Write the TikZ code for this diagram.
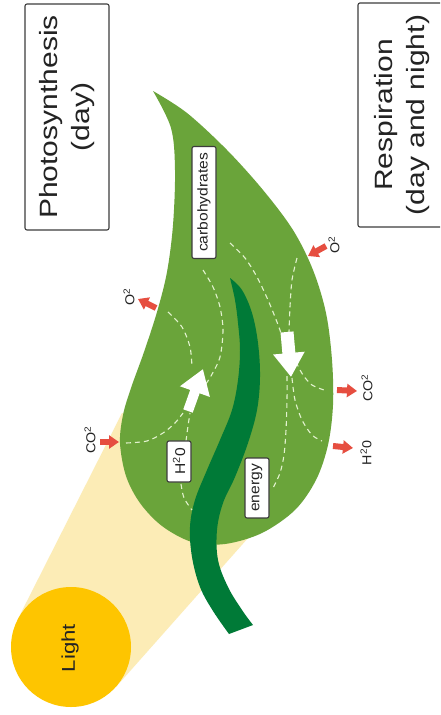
\documentclass[tikz,border=0pt]{standalone}
\usepackage{fontspec}
\setmainfont{Liberation Sans}
\usetikzlibrary{arrows.meta}

\definecolor{leafgreen}{RGB}{106,164,58}
\definecolor{stemgreen}{RGB}{0,122,55}
\definecolor{sun}{RGB}{254,197,0}
\definecolor{beam}{RGB}{252,236,182}
\definecolor{gasred}{RGB}{230,78,64}
\definecolor{flow}{RGB}{226,242,206}
\definecolor{ink}{RGB}{35,35,35}
\definecolor{frame}{RGB}{60,60,60}

\begin{document}
\begin{tikzpicture}[x=1pt,y=-1pt,
  title/.style={draw=frame, line width=1.1pt, rounded corners=2pt, fill=white,
    rotate=90, xscale=1.2, inner sep=0pt, align=center, text=ink,
    font=\fontsize{25}{32.5}\selectfont},
  tag/.style={draw=frame, line width=1.1pt, rounded corners=2pt, fill=white,
    rotate=90, xscale=1.1, inner sep=0pt, minimum height=24pt, text=ink,
    font=\fontsize{14.2}{16}\selectfont},
  gas/.style={rotate=90, xscale=1.1, inner sep=0pt, text=ink,
    font=\fontsize{13}{15}\selectfont},
  gasflow/.style={draw=gasred, line width=6pt, -{Triangle[length=10pt,width=13pt]}},
  bigflow/.style={draw=white, -{Triangle[length=24pt,width=30pt]}},
  trail/.style={draw=flow, line width=1.1pt, dash pattern=on 5pt off 4pt},
]
\path[use as bounding box, fill=white] (0,0) rectangle (440,715);
\clip (0,0) rectangle (440,715);

% beam of light from the sun to the leaf
\fill[beam] (17.4,620) -- (122,413) -- (160,425) -- (272,511) -- (115.7,687.3) -- cycle;
\node[circle, fill=sun, minimum size=120pt, inner sep=0pt] (sun) at (71,647) {};
\node[rotate=90, xscale=1.2, text=ink, font=\fontsize{18.5}{20}\selectfont] (light) at (70,648) {Light};

% leaf blade
\fill[leafgreen] plot[smooth, tension=0.55] coordinates {
  (153,91) (187,113) (227,150) (263,190) (293,230) (313,270) (326,313)
  (332,360) (333,405) (328,445) (316,480) (295,510) (262,533) (225,544)
  (192,542) (162,526) (140,503) (126,476) (120,443) (123,415) (131,388)
  (144,352) (157,312) (167,272) (173,225) (175,170) (171,128) (153,91)} -- cycle;

% midrib and stalk
\fill[stemgreen] plot[smooth, tension=0.6] coordinates {
  (230,278) (242,290) (252,313) (258,343) (260,377) (257,410) (248,443)
  (235,477) (223,503) (217,530) (218,560) (228,587) (242,610) (253,625)}
  -- plot[smooth, tension=0.6] coordinates {
  (229,634) (213,611) (200,587) (192,557) (190,527) (195,500) (207,470)
  (220,440) (232,410) (238,380) (240,350) (238,323) (235,300) (230,278)} -- cycle;

% photosynthesis flow lines
\draw[trail] plot[smooth] coordinates {(126,443) (147,441) (163,433) (175,423) (183,413)};
\draw[trail] plot[smooth] coordinates {(186,441) (188,426) (190,413)};
\draw[trail] plot[smooth] coordinates {(181,484) (184,498) (192,510)};
\draw[trail] plot[smooth] coordinates {(168,312) (182,327) (190,347) (192,367)};
\draw[trail] plot[smooth] coordinates {(203,270) (213,287) (220,307) (223,330) (220,357) (211,376) (205,385)};

% respiration flow lines
\draw[trail] plot[smooth] coordinates {(230,243) (245,258) (257,277) (268,300) (277,322) (281,333)};
\draw[trail] plot[smooth] coordinates {(297,258) (292,280) (290,307) (289,332)};
\draw[trail] plot[smooth] coordinates {(296,362) (303,375) (312,385) (324,390)};
\draw[trail] plot[smooth] coordinates {(292,378) (295,400) (302,420) (312,435) (322,441)};
\draw[trail] plot[smooth] coordinates {(287,376) (287,400) (286,430) (284,455) (280,473) (273,488)};

% direction of the two processes
\coordinate (ps tail) at (188,411);
\coordinate (ps head) at (203,369);
\coordinate (rs tail) at (287,332);
\coordinate (rs head) at (291,377);
\draw[bigflow, line width=10pt] (ps tail) -- (ps head);
\draw[bigflow, line width=13pt] (rs tail) -- (rs head);

% substances inside the leaf
\node[tag, minimum width=101.8pt] (carbs) at (204,202.5) {carbohydrates};
\node[tag, minimum width=37.3pt] (water) at (179,461.5) {H\textsuperscript{2}0};
\node[tag, minimum width=54.5pt] (energy) at (257,488) {energy};

% gas exchange
\coordinate (co2in a) at (100,442);  \coordinate (co2in b) at (119,442);
\coordinate (o2out a) at (156,308);  \coordinate (o2out b) at (138,299);
\coordinate (o2in a) at (326,246);   \coordinate (o2in b) at (308,256);
\coordinate (co2out a) at (337,390); \coordinate (co2out b) at (357,391);
\coordinate (h2oout a) at (333,446); \coordinate (h2oout b) at (353,448);
\draw[gasflow] (co2in a) -- (co2in b);
\draw[gasflow] (o2out a) -- (o2out b);
\draw[gasflow] (o2in a) -- (o2in b);
\draw[gasflow] (co2out a) -- (co2out b);
\draw[gasflow] (h2oout a) -- (h2oout b);

\node[gas] (co2in) at (90,440) {CO\textsuperscript{2}};
\node[gas] (o2out) at (129,297) {O\textsuperscript{2}};
\node[gas] (o2in) at (334,245) {O\textsuperscript{2}};
\node[gas] (co2out) at (367,388) {CO\textsuperscript{2}};
\node[gas] (h2oout) at (366,453) {H\textsuperscript{2}0};

% headings
\node[title, minimum width=188.3pt, minimum height=84pt] (photo) at (67,117) {Photosynthesis\\(day)};
\node[title, minimum width=186.7pt, minimum height=88pt] (resp) at (402,115) {Respiration\\(day and night)};
\end{tikzpicture}
\end{document}
